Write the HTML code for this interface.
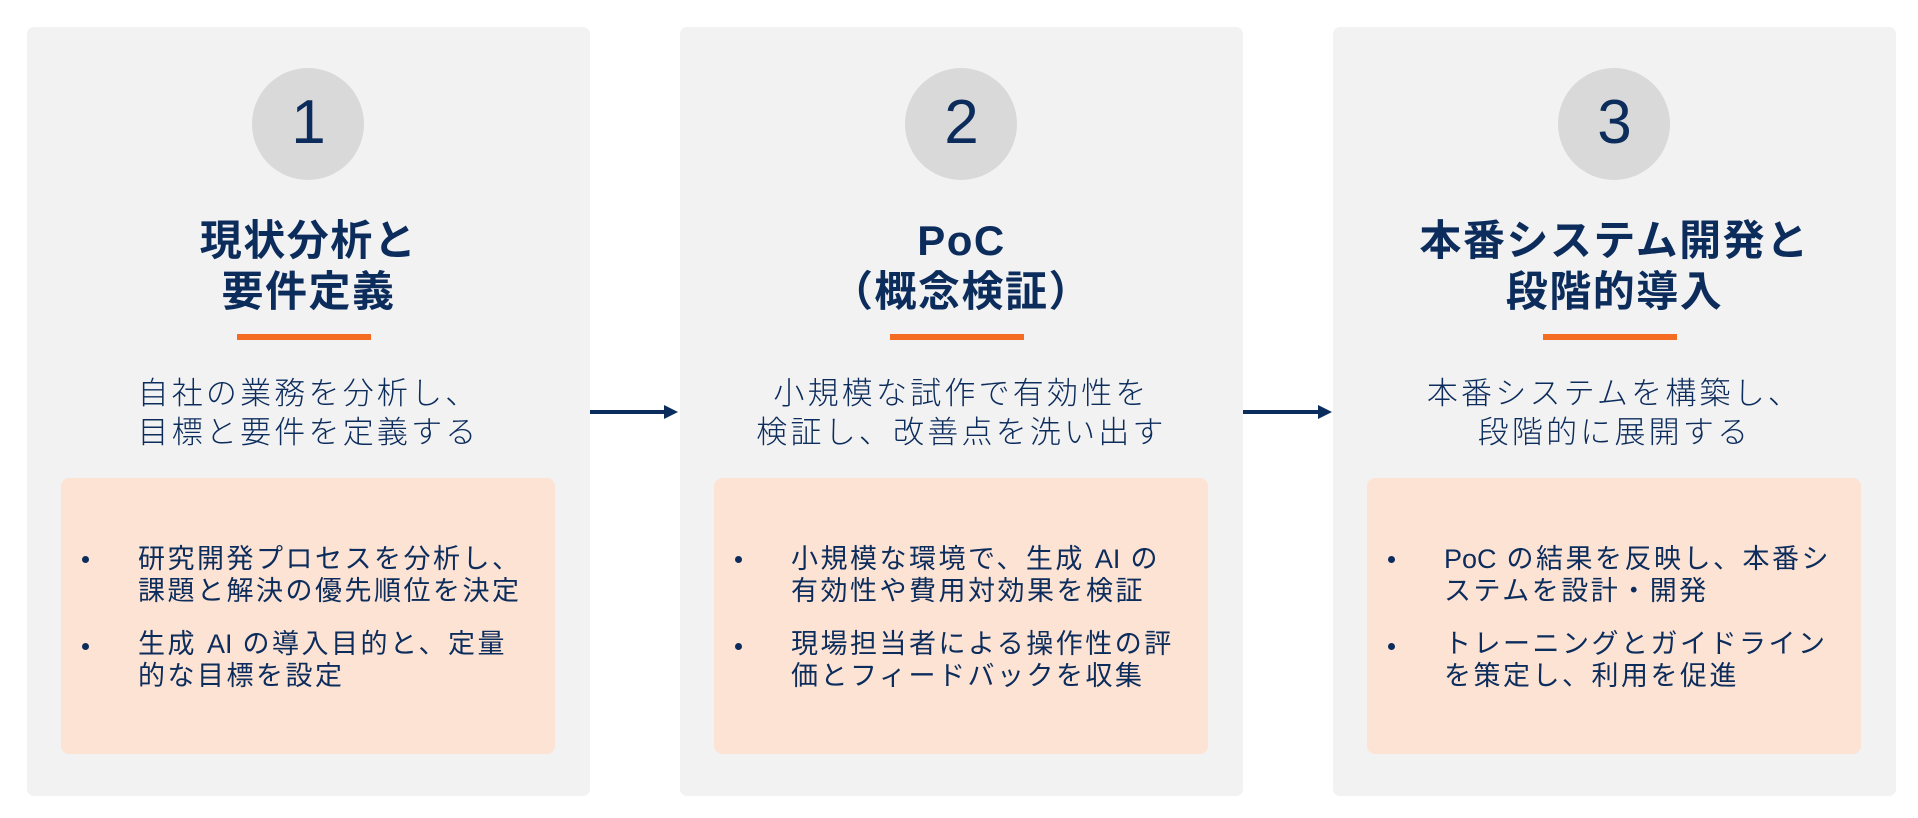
<!DOCTYPE html>
<html><head><meta charset="utf-8"><style>
html,body{margin:0;padding:0;background:#fff;}
body{width:1918px;height:818px;position:relative;overflow:hidden;font-family:"Liberation Sans","Noto Sans CJK JP",sans-serif;color:#0c2c5c;}
.panel{position:absolute;top:27px;width:563px;height:769px;background:#f2f2f2;border-radius:7px;}
.circle{position:absolute;left:225px;top:41px;width:112px;height:112px;border-radius:50%;background:#d9d9d9;}
.num{position:absolute;left:0;width:563px;top:65px;text-align:center;font-size:62px;line-height:62px;font-weight:400;}
.title{position:absolute;left:0;width:563px;top:188px;text-align:center;font-size:42px;line-height:51px;font-weight:700;letter-spacing:1.5px;white-space:nowrap;}
.bar{position:absolute;left:210px;top:307px;width:134px;height:6px;background:#f36c21;}
.sub{position:absolute;left:0;width:563px;top:347px;text-align:center;font-size:31px;line-height:39px;font-weight:300;letter-spacing:3.2px;white-space:nowrap;}
.box{position:absolute;left:34px;top:451px;width:494px;height:276px;background:#fce3d4;border-radius:8px;}
.item{position:absolute;left:111px;font-size:27px;line-height:32px;letter-spacing:2.5px;white-space:nowrap;}
.l{letter-spacing:0;}
.dot{position:absolute;left:55px;width:7px;height:7px;border-radius:50%;background:#0c2c5c;}
.arrow{position:absolute;top:410px;height:4px;background:#0b2d5e;}
.head{position:absolute;top:404.5px;width:0;height:0;border-top:7.5px solid transparent;border-bottom:7.5px solid transparent;border-left:14px solid #0b2d5e;}
</style></head><body>

<div class="panel" style="left:27px;">
  <div class="circle"></div>
  <div class="num">1</div>
  <div class="title">現状分析と<br>要件定義</div>
  <div class="bar"></div>
  <div class="sub">自社の業務を分析し、<br>目標と要件を定義する</div>
  <div class="box"></div>
  <div class="dot" style="top:529px;"></div>
  <div class="item" style="top:516px;">研究開発プロセスを分析し、<br>課題と解決の優先順位を決定</div>
  <div class="dot" style="top:616px;"></div>
  <div class="item" style="top:601px;">生成 <span class="l">AI</span> の導入目的と、定量<br>的な目標を設定</div>
</div>

<div class="arrow" style="left:590px;width:75px;"></div>
<div class="head" style="left:664px;"></div>

<div class="panel" style="left:680px;">
  <div class="circle"></div>
  <div class="num">2</div>
  <div class="title">PoC<br>（概念検証）</div>
  <div class="bar"></div>
  <div class="sub">小規模な試作で有効性を<br>検証し、改善点を洗い出す</div>
  <div class="box"></div>
  <div class="dot" style="top:529px;"></div>
  <div class="item" style="top:516px;">小規模な環境で、生成 <span class="l">AI</span> の<br>有効性や費用対効果を検証</div>
  <div class="dot" style="top:616px;"></div>
  <div class="item" style="top:601px;">現場担当者による操作性の評<br>価とフィードバックを収集</div>
</div>

<div class="arrow" style="left:1243px;width:76px;"></div>
<div class="head" style="left:1318px;"></div>

<div class="panel" style="left:1333px;">
  <div class="circle"></div>
  <div class="num">3</div>
  <div class="title">本番システム開発と<br>段階的導入</div>
  <div class="bar"></div>
  <div class="sub">本番システムを構築し、<br>段階的に展開する</div>
  <div class="box"></div>
  <div class="dot" style="top:529px;"></div>
  <div class="item" style="top:516px;"><span class="l">PoC</span> の結果を反映し、本番シ<br>ステムを設計・開発</div>
  <div class="dot" style="top:616px;"></div>
  <div class="item" style="top:601px;">トレーニングとガイドライン<br>を策定し、利用を促進</div>
</div>

</body></html>
